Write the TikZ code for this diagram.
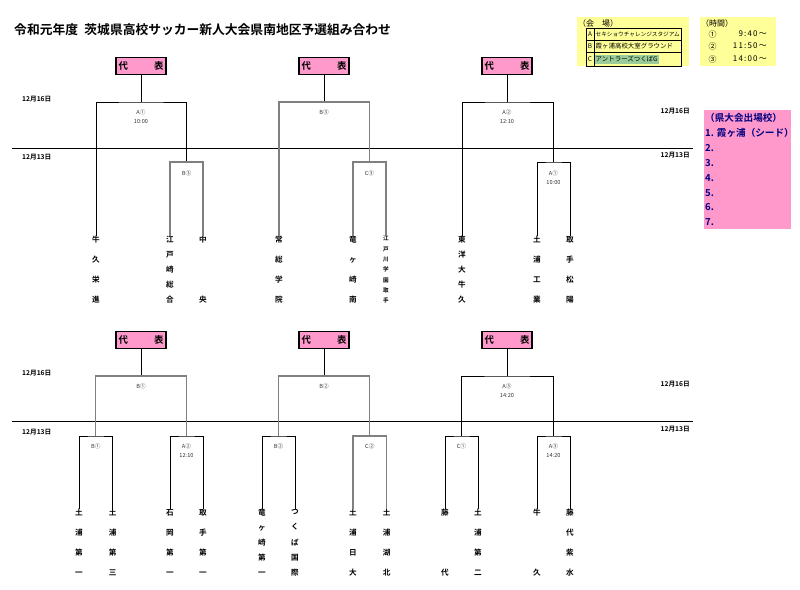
\documentclass[tikz,border=0pt]{standalone}
\usepackage{fontspec}
\setmainfont{Noto Sans CJK JP}[BoldFont={Noto Sans CJK JP Bold}]
\usepackage{xcolor}
\usepackage{tikz}
\usetikzlibrary{positioning,calc}
\definecolor{repPink}{HTML}{FF99CC}
\definecolor{noteYel}{HTML}{FFFF99}
\definecolor{venueGrn}{HTML}{99CC99}
\definecolor{navyText}{HTML}{000080}
\definecolor{lineGray}{HTML}{808080}
% team names set top to bottom, spread over the column
\newcommand{\tate}[1]{\parbox[t][2cm][s]{1em}{\foreach \x [count=\i] in {#1}{\ifnum\i>1 \vfill\fi\hbox to 1em{\hss\x\hss}}}}

\begin{document}
\begin{tikzpicture}[x=0.03cm, y=-0.03cm,
  rep/.style={draw, line width=1.3pt, fill=repPink, minimum width=1.5cm, minimum height=0.5cm,
              inner sep=1pt, text width=1.35cm, font=\bfseries\fontsize{8}{9}\selectfont},
  ln/.style={line width=0.7pt},
  gl/.style={line width=1.1pt, draw=lineGray},
  dline/.style={line width=0.8pt},
  team/.style={anchor=north, inner sep=0pt, font=\bfseries\fontsize{6.5}{7}\selectfont},
  mlbl/.style={anchor=north, inner sep=0pt, align=center, text=black!80, font=\fontsize{4.8}{7.5}\selectfont},
  day/.style={inner sep=0pt, font=\bfseries\fontsize{5.7}{7}\selectfont},
  vname/.style={anchor=west, inner sep=0pt, font=\fontsize{5.5}{6}\selectfont},
  note/.style={anchor=west, inner sep=0pt, font=\fontsize{6.8}{7}\selectfont},
  lst/.style={anchor=west, inner sep=0pt, text=navyText, font=\bfseries\fontsize{8.2}{9}\selectfont},
]
\useasboundingbox (0,0) rectangle (800,590);

\node[anchor=west, inner sep=0pt, font=\bfseries\fontsize{10.9}{13}\selectfont] (title) at (14,30)
  {令和元年度\hspace{0.5em}茨城県高校サッカー新人大会県南地区予選組み合わせ};

% venues and times
\fill[noteYel] (577,17) rectangle (689,66);
\node[note] (venT) at (578,23) {（会　場）};
\fill[venueGrn] (595,55) rectangle (659,64);
\draw[line width=0.8pt] (586,28.7) rectangle (681.5,66);
\draw[line width=0.6pt] (594,28.7) -- (594,66) (586,40) -- (681.5,40) (586,52.3) -- (681.5,52.3);
\node[vname, anchor=center] (vA) at (590,34.4) {A};
\node[vname, anchor=center] (vB) at (590,46.2) {B};
\node[vname, anchor=center] (vC) at (590,59) {C};
\node[vname, font=\fontsize{4.8}{5}\selectfont] (nA) at (595.5,34.4) {セキショウチャレンジスタジアム};
\node[vname] (nB) at (595.5,46.2) {霞ヶ浦高校大室グラウンド};
\node[vname] (nC) at (595.5,59) {アントラーズつくばG};

\fill[noteYel] (700,17) rectangle (776,66);
\node[note] (timeT) at (701,23) {（時間）};
\foreach \n/\s/\yy/\tm in {1/①/34/9:40～, 2/②/46/11:50～, 3/③/59/14:00～}{
  \node[note, anchor=center] (c\n) at (712.5,\yy) {\s};
  \node[note, anchor=east] (h\n) at (767,\yy) {\addfontfeature{LetterSpace=15}\tm};
}

% qualified schools
\fill[repPink] (704,110) rectangle (791,229);
\node[lst] (q0) at (705,118) {（県大会出場校）};
\node[lst] (q1) at (705,133) {1. 霞ヶ浦（シード）};
\foreach \n/\yy in {2/148, 3/163, 4/178, 5/193, 6/207, 7/222}
  \node[lst] (q\n) at (705,\yy) {\n.};

% day lines
\draw[dline] (12,148) -- (693,148);
\draw[dline] (12,421) -- (693,421);
\node[day, anchor=west] (d1) at (22,99) {12月16日};
\node[day, anchor=west] (d2) at (22,157) {12月13日};
\node[day, anchor=east] (d3) at (690,111) {12月16日};
\node[day, anchor=east] (d4) at (690,155) {12月13日};
\node[day, anchor=west] (d5) at (22,373) {12月16日};
\node[day, anchor=west] (d6) at (22,432) {12月13日};
\node[day, anchor=east] (d7) at (690,384) {12月16日};
\node[day, anchor=east] (d8) at (690,429) {12月13日};

% upper block
\node[rep] (r1) at (141,66) {代\hfill 表};
\node[rep] (r2) at (324,66) {代\hfill 表};
\node[rep] (r3) at (507,66) {代\hfill 表};
\node[team] (t1) at (96,236) {\tate{牛,久,栄,進}};
\node[team] (t2) at (170,236) {\tate{江,戸,崎,総,合}};
\node[team] (t3) at (203,236) {\tate{中,央}};
\node[team] (t4) at (279,236) {\tate{常,総,学,院}};
\node[team] (t5) at (353,236) {\tate{竜,ヶ,崎,南}};
\node[team, font=\bfseries\fontsize{4.8}{5}\selectfont] (t6) at (386,236) {\tate{江,戸,川,学,園,取,手}};
\node[team] (t7) at (462,236) {\tate{東,洋,大,牛,久}};
\node[team] (t8) at (537,236) {\tate{土,浦,工,業}};
\node[team] (t9) at (570,236) {\tate{取,手,松,陽}};
\coordinate (j1) at (141,102); \coordinate (j2) at (324,102); \coordinate (j3) at (507,102);
\coordinate (s1) at (186.5,162); \coordinate (s2) at (369.5,162); \coordinate (s3) at (553.5,162);
\draw[ln] (r1) -- (j1); \draw[ln] (r2) -- (j2); \draw[ln] (r3) -- (j3);
\draw[ln] (t1.north) |- (j1) -| (s1);
\draw[gl] (t2.north) |- (s1) -| (t3.north);
\draw[gl] (t4.north) |- (j2) -| (s2);
\draw[gl] (t5.north) |- (s2) -| (t6.north);
\draw[ln] (t7.north) |- (j3) -| (s3);
\draw[ln] (t8.north) |- (s3) -| (t9.north);
\node[mlbl] (m1) at (141,110) {A①\\10:00};
\node[mlbl] (m2) at (324,110) {B③};
\node[mlbl] (m3) at (507,110) {A②\\12:10};
\node[mlbl] (m4) at (186.5,171) {B③};
\node[mlbl] (m5) at (369.5,171) {C③};
\node[mlbl] (m6) at (553.5,171) {A①\\10:00};

% lower block
\node[rep] (r4) at (141,340) {代\hfill 表};
\node[rep] (r5) at (324,340) {代\hfill 表};
\node[rep] (r6) at (507,340) {代\hfill 表};
\node[team] (b1) at (79,509) {\tate{土,浦,第,一}};
\node[team] (b2) at (112.7,509) {\tate{土,浦,第,三}};
\node[team] (b3) at (170,509) {\tate{石,岡,第,一}};
\node[team] (b4) at (203,509) {\tate{取,手,第,一}};
\node[team] (b5) at (262,509) {\tate{竜,ヶ,崎,第,一}};
\node[team] (b6) at (295,509) {\tate{つ,く,ば,国,際}};
\node[team] (b7) at (353,509) {\tate{土,浦,日,大}};
\node[team] (b8) at (386.7,509) {\tate{土,浦,湖,北}};
\node[team] (b9) at (445,509) {\tate{藤,代}};
\node[team] (b10) at (478,509) {\tate{土,浦,第,二}};
\node[team] (b11) at (537,509) {\tate{牛,久}};
\node[team] (b12) at (570,509) {\tate{藤,代,紫,水}};
\coordinate (j4) at (141,376); \coordinate (j5) at (324,376); \coordinate (j6) at (507,376);
\coordinate (s4) at (95.8,436); \coordinate (s5) at (186.5,436); \coordinate (s6) at (278.5,436);
\coordinate (s7) at (369.8,436); \coordinate (s8) at (461.5,436); \coordinate (s9) at (553.5,436);
\draw[ln] (r4) -- (j4); \draw[ln] (r5) -- (j5); \draw[ln] (r6) -- (j6);
\draw[gl] (s4) |- (j4) -| (s5);
\draw[gl] (s6) |- (j5) -| (s7);
\draw[ln] (s8) |- (j6) -| (s9);
\draw[ln] (b1.north) |- (s4) -| (b2.north);
\draw[ln] (b3.north) |- (s5) -| (b4.north);
\draw[ln] (b5.north) |- (s6) -| (b6.north);
\draw[gl] (b7.north) |- (s7) -| (b8.north);
\draw[ln] (b9.north) |- (s8) -| (b10.north);
\draw[ln] (b11.north) |- (s9) -| (b12.north);
\node[mlbl] (m7) at (141,384) {B①};
\node[mlbl] (m8) at (324,384) {B②};
\node[mlbl] (m9) at (507,384) {A③\\14:20};
\node[mlbl] (m10) at (95.8,444) {B①};
\node[mlbl] (m11) at (186.5,444) {A②\\12:10};
\node[mlbl] (m12) at (278.5,444) {B②};
\node[mlbl] (m13) at (369.8,444) {C②};
\node[mlbl] (m14) at (461.5,444) {C①};
\node[mlbl] (m15) at (553.5,444) {A③\\14:20};
\end{tikzpicture}
\end{document}
